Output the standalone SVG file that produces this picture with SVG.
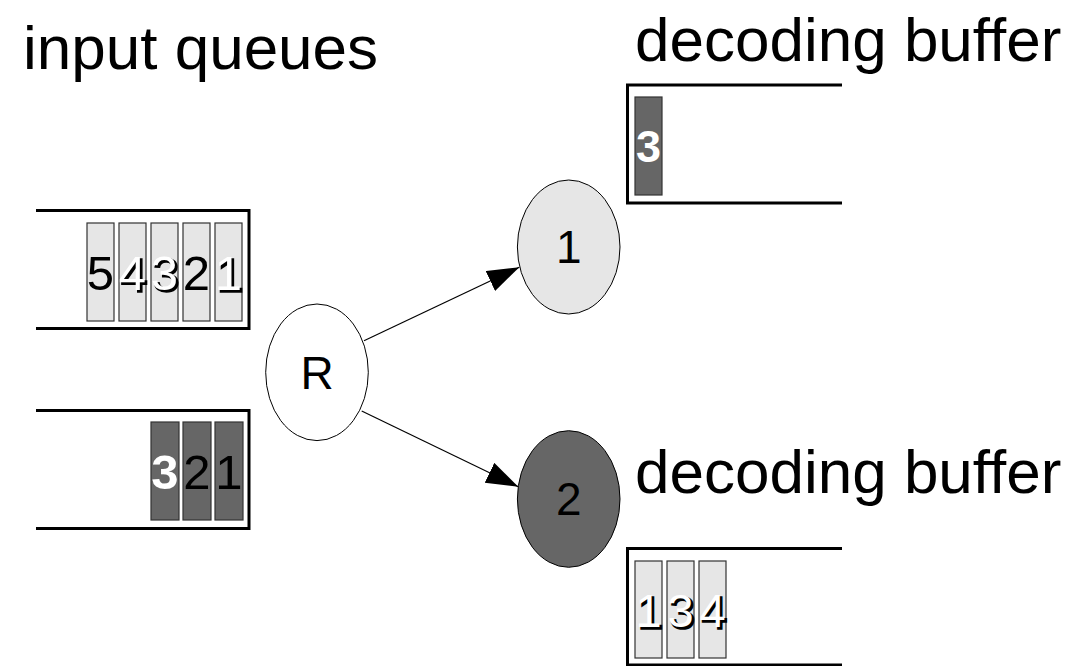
<svg xmlns="http://www.w3.org/2000/svg" width="1086" height="666" viewBox="0 0 1086 666">
<defs>
<marker id="arr" markerUnits="userSpaceOnUse" markerWidth="34" markerHeight="24" refX="32" refY="11" orient="auto">
<path d="M0,0 L32,11 L0,22 Z" fill="#000"/>
</marker>
</defs>
<style>
.title{font-family:"Liberation Sans",Arial,sans-serif;font-size:62px;fill:#000}
.frame{fill:none;stroke:#000;stroke-width:3}
.lt{fill:#e6e6e6;stroke:#333;stroke-width:1.2}
.dk{fill:#666;stroke:#333;stroke-width:1.2}
.dg{font-family:"Liberation Sans",Arial,sans-serif;font-size:49px;text-anchor:middle}
.b{fill:#000}
.w{fill:#fff}
.wb{fill:#fff;font-weight:bold}
.sh{fill:#000;stroke:#000;stroke-width:1.5}
.nl{font-family:"Liberation Sans",Arial,sans-serif;font-size:46px;text-anchor:middle;fill:#000}
.node{stroke:#000;stroke-width:1}
.edge{stroke:#000;stroke-width:1.2;fill:none}
</style>
<rect width="1086" height="666" fill="#fff"/>
<text class="title" x="23" y="69">input queues</text>
<text class="title" x="635" y="61">decoding buffer</text>
<text class="title" x="635" y="493">decoding buffer</text>

<g id="queue-top">
<path class="frame" d="M36,210.5 H249 V328.5 H36"/>
<rect class="lt" x="87" y="223" width="27" height="98"/>
<rect class="lt" x="119" y="223" width="27" height="98"/>
<rect class="lt" x="151" y="223" width="27" height="98"/>
<rect class="lt" x="183" y="223" width="27" height="98"/>
<rect class="lt" x="215" y="223" width="27" height="98"/>
<text class="dg b" x="100.5" y="290">5</text>
<text class="dg sh" x="134.5" y="291.5">4</text><text class="dg w" x="132.5" y="290">4</text>
<text class="dg sh" x="166.5" y="291.5">3</text><text class="dg w" x="164.5" y="290">3</text>
<text class="dg b" x="196.5" y="290">2</text>
<text class="dg sh" x="230.5" y="291.5">1</text><text class="dg w" x="228.5" y="290">1</text>
</g>

<g id="queue-bottom">
<path class="frame" d="M36,410.5 H249 V528.5 H36"/>
<rect class="dk" x="151" y="422" width="28" height="98"/>
<rect class="dk" x="183" y="422" width="28" height="98"/>
<rect class="dk" x="215" y="422" width="28" height="98"/>
<text class="dg wb" x="165" y="489">3</text>
<text class="dg b" x="197" y="489">2</text>
<text class="dg b" x="229" y="489">1</text>
</g>

<g id="buffer-top">
<path class="frame" d="M842,85 H627.5 V203 H842"/>
<rect class="dk" x="635" y="97" width="27" height="98"/>
<text class="dg wb" x="648.5" y="162" style="font-size:45px">3</text>
</g>

<g id="buffer-bottom">
<path class="frame" d="M842,548.5 H627.5 V665 H842"/>
<rect class="lt" x="635" y="561" width="27" height="97"/>
<rect class="lt" x="667" y="561" width="27" height="97"/>
<rect class="lt" x="699" y="561" width="27" height="97"/>
<text class="dg sh" x="650.5" y="628.5" style="font-size:47px">1</text><text class="dg w" x="648.5" y="627" style="font-size:47px">1</text>
<text class="dg sh" x="682.5" y="628.5" style="font-size:47px">3</text><text class="dg w" x="680.5" y="627" style="font-size:47px">3</text>
<text class="dg sh" x="714.5" y="628.5" style="font-size:47px">4</text><text class="dg w" x="712.5" y="627" style="font-size:47px">4</text>
</g>

<g id="connectors">
<line class="edge" x1="364" y1="340.7" x2="519.3" y2="267.3" marker-end="url(#arr)"/>
<line class="edge" x1="361.7" y1="411" x2="518.3" y2="486.7" marker-end="url(#arr)"/>
</g>

<g id="node-R">
<ellipse class="node" cx="317" cy="372.3" rx="51.3" ry="68.3" fill="#fff"/>
<text class="nl" x="317" y="389">R</text>
</g>
<g id="node-1">
<ellipse class="node" cx="568.7" cy="247" rx="51.3" ry="67" fill="#e6e6e6"/>
<text class="nl" x="568.7" y="263">1</text>
</g>
<g id="node-2">
<ellipse class="node" cx="568.7" cy="499" rx="51.3" ry="68.3" fill="#666"/>
<text class="nl" x="568.7" y="515">2</text>
</g>
</svg>
